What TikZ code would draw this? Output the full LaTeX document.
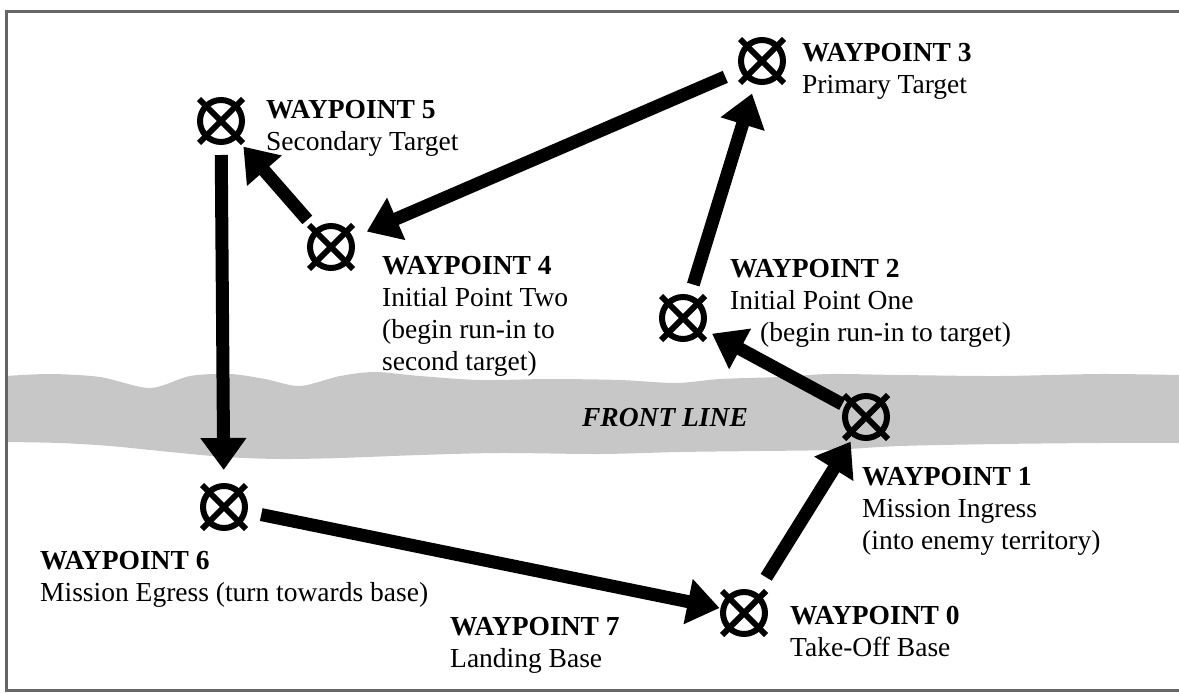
\documentclass[tikz,border=0pt]{standalone}
\usepackage{fontspec}
\setmainfont{Liberation Serif}
\usetikzlibrary{arrows.meta}
\newcommand\lblfont{\fontsize{27.5}{32}\selectfont\lineskiplimit-20pt\relax}

\begin{document}
\begin{tikzpicture}[x=1pt,y=-1pt,
	wpt/.style={circle,draw,line width=6pt,minimum size=42pt,inner sep=0pt},
	xline/.style={line width=6pt},
	route/.style={line width=13pt,-{Triangle[length=32pt,width=44pt]}},
	lbl/.style={anchor=north west,align=left,inner sep=0pt,font=\lblfont}]
	\useasboundingbox (0,0) rectangle (1179,693);
	
	% front line band
	\fill[black!22] plot[smooth] coordinates {(6,376) (50,374) (100,377) (150,388) (190,376) (230,374) (265,379) (300,386) (340,376) (375,372) (420,376) (480,380) (550,379) (620,380) (676,383) (720,379) (780,377) (830,374) (900,375) (1000,376) (1100,374) (1179,375)}
		-- plot[smooth] coordinates {(1179,443) (1100,443) (1000,444) (900,446) (830,450) (760,451) (680,452) (600,454) (500,453) (420,455) (340,458) (280,459) (225,457) (170,452) (110,446) (60,443) (6,442)} -- cycle;
	\node[font=\fontsize{27.5}{30}\selectfont\bfseries\itshape,inner sep=0pt] (front) at (665,418) {FRONT LINE};
	
	% frame
	\draw[line width=3pt,black!60] (1179,12) -- (6,12) -- (6,690) -- (1179,690);
	
	% waypoints
	\node[wpt] (wp0) at (744,613) {};
	\node[wpt] (wp1) at (866,417) {};
	\node[wpt] (wp2) at (683,318) {};
	\node[wpt] (wp3) at (762,61) {};
	\node[wpt] (wp4) at (331,247) {};
	\node[wpt] (wp5) at (221,121) {};
	\node[wpt] (wp6) at (224,507) {};
	\foreach \w in {0,...,6} {
		\draw[xline] ([shift={(-22,-22)}]wp\w.center) -- ([shift={(22,22)}]wp\w.center);
		\draw[xline] ([shift={(-22,22)}]wp\w.center) -- ([shift={(22,-22)}]wp\w.center);
	}
	
	% labels
	\node[lbl] (lbl0) at (790,606) {\textbf{WAYPOINT 0}\\Take-Off Base};
	\node[lbl] (lbl1) at (862,467) {\textbf{WAYPOINT 1}\\Mission Ingress\\(into enemy territory)};
	\node[lbl] (lbl2) at (730,259) {\textbf{WAYPOINT 2}\\Initial Point One\\\hspace*{30pt}(begin run-in to target)};
	\node[lbl] (lbl3) at (802,43) {\textbf{WAYPOINT 3}\\Primary Target};
	\node[lbl] (lbl4) at (382,256) {\textbf{WAYPOINT 4}\\Initial Point Two\\(begin run-in to\\second target)};
	\node[lbl] (lbl5) at (266,100) {\textbf{WAYPOINT 5}\\Secondary Target};
	\node[lbl] (lbl6) at (40,551) {\textbf{WAYPOINT 6}\\Mission Egress (turn towards base)};
	\node[lbl] (lbl7) at (450,617) {\textbf{WAYPOINT 7}\\Landing Base};
	
	% route
	\draw[route,shorten <=18pt,shorten >=5pt] (wp0) -- (wp1);
	\draw[route,shorten <=3pt,shorten >=9pt] (wp1) -- (wp2);
	\draw[route,shorten <=11pt,shorten >=10pt] (wp2) -- (wp3);
	\draw[route,shorten <=16pt,shorten >=15pt] (wp3) -- (wp4);
	\draw[route,shorten <=12pt,shorten >=10pt] (wp4) -- (wp5);
	\draw[route,shorten <=10pt,shorten >=13pt] (wp5) -- (wp6);
	\draw[route,shorten <=14pt,shorten >=1pt] (wp6) -- (wp0);
\end{tikzpicture}
\end{document}
